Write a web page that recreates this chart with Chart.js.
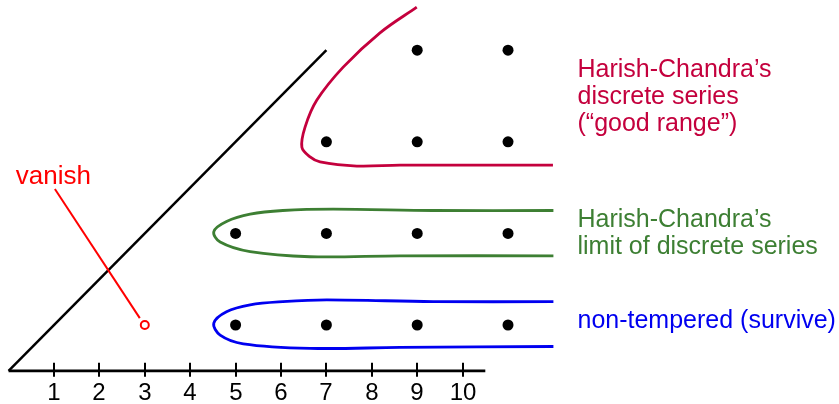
<!DOCTYPE html>
<html>
<head>
<meta charset="utf-8">
<script src="https://cdn.jsdelivr.net/npm/chart.js@4/dist/chart.umd.min.js"></script>
<style>
  html, body { margin: 0; padding: 0; background: #fff; }
  #wrap { width: 839px; height: 404px; }
</style>
</head>
<body>
<div id="wrap"><canvas id="chart" width="839" height="404"></canvas></div>
<script>
// axis ticks
const tickValues = [1, 2, 3, 4, 5, 6, 7, 8, 9, 10];
const tickLabels = ['1', '2', '3', '4', '5', '6', '7', '8', '9', '10'];

// lattice points (x > y, both odd)
const dotX = [5, 7, 9, 11, 5, 7, 9, 11, 7, 9, 11, 9, 11];
const dotY = [1, 1, 1, 1, 3, 3, 3, 3, 5, 5, 5, 7, 7];

// vanishing point
const vanishX = [3];
const vanishY = [1];

// axis and diagonal
const axisX = [0, 10.5];
const axisY = [0, 0];
const diagX = [0, 7];
const diagY = [0, 7];

// enclosing curves
const discreteX = [8.99, 8.18, 7.37, 6.79, 6.53, 6.46, 6.64, 6.86, 7.67, 8.62, 11.99];
const discreteY = [7.94, 7.38, 6.63, 5.91, 5.32, 4.88, 4.67, 4.56, 4.47, 4.49, 4.49];
const limitX = [12.0, 9.35, 7.15, 6.04, 5.32, 4.80, 4.52, 4.66, 5.32, 6.64, 8.62, 12.0];
const limitY = [3.50, 3.50, 3.53, 3.50, 3.42, 3.26, 3.04, 2.81, 2.60, 2.49, 2.51, 2.51];
const nonTempX = [12.0, 9.35, 7.01, 6.04, 5.32, 4.80, 4.52, 4.66, 5.17, 6.64, 8.62, 12.0];
const nonTempY = [1.51, 1.51, 1.55, 1.51, 1.44, 1.29, 1.04, 0.78, 0.59, 0.49, 0.51, 0.53];

// pointer from "vanish"
const pointerX = [1.02, 2.89];
const pointerY = [3.97, 1.15];

// text labels
const discreteLabel = ['Harish-Chandra\u2019s', 'discrete series', '(\u201cgood range\u201d)'];
const limitLabel = ['Harish-Chandra\u2019s', 'limit of discrete series'];
const nonTempLabel = ['non-tempered (survive)'];
const vanishLabel = ['vanish'];

const RED = '#c4003d';
const GREEN = '#3d7f33';
const BLUE = '#0000f0';
const BRIGHT = '#ff0000';

function pts(xs, ys) {
  return xs.map((v, i) => ({ x: v, y: ys[i] }));
}

function lineSet(xs, ys, color, width, tension) {
  return {
    data: pts(xs, ys),
    showLine: true,
    borderColor: color,
    borderWidth: width,
    pointRadius: 0,
    tension: tension,
    fill: false
  };
}

// text groups anchored in data units
const labelGroups = [
  { lines: discreteLabel, x: 12.53, y: 6.415, color: RED, size: 25 },
  { lines: limitLabel, x: 12.53, y: 3.146, color: GREEN, size: 25 },
  { lines: nonTempLabel, x: 12.53, y: 0.93, color: BLUE, size: 25 },
  { lines: vanishLabel, x: 0.16, y: 4.08, color: BRIGHT, size: 26 }
];

const overlay = {
  id: 'overlay',
  afterDraw(chart) {
    const { ctx } = chart;
    const x = chart.scales.x;
    const y = chart.scales.y;
    ctx.save();
    // tick marks + numbers
    const y0 = y.getPixelForValue(0);
    ctx.strokeStyle = '#000';
    ctx.lineWidth = 2;
    ctx.fillStyle = '#000';
    ctx.font = '24px "Liberation Sans", Arial, sans-serif';
    ctx.textAlign = 'center';
    ctx.textBaseline = 'alphabetic';
    tickValues.forEach((v, i) => {
      const px = Math.round(x.getPixelForValue(v));
      ctx.beginPath();
      ctx.moveTo(px, y0 - 8);
      ctx.lineTo(px, y0 + 6);
      ctx.stroke();
      ctx.fillText(tickLabels[i], px, y0 + 29);
    });
    // annotations
    ctx.textAlign = 'left';
    labelGroups.forEach(g => {
      ctx.font = g.size + 'px "Liberation Sans", Arial, sans-serif';
      ctx.fillStyle = g.color;
      const px = x.getPixelForValue(g.x);
      const py = y.getPixelForValue(g.y);
      g.lines.forEach((t, i) => ctx.fillText(t, px, py + i * 27));
    });
    ctx.restore();
  }
};

new Chart(document.getElementById('chart'), {
  type: 'scatter',
  data: {
    datasets: [
      {
        data: pts(dotX, dotY),
        pointRadius: 5.5,
        pointBackgroundColor: '#000',
        pointBorderWidth: 0,
        showLine: false
      },
      {
        data: pts(vanishX, vanishY),
        pointRadius: 4,
        pointBackgroundColor: '#fff',
        pointBorderColor: BRIGHT,
        pointBorderWidth: 2,
        showLine: false
      },
      lineSet(pointerX, pointerY, BRIGHT, 2, 0),
      lineSet(discreteX, discreteY, RED, 2.8, 0.35),
      lineSet(limitX, limitY, GREEN, 2.8, 0.35),
      lineSet(nonTempX, nonTempY, BLUE, 2.8, 0.35),
      lineSet(diagX, diagY, '#000', 2.5, 0),
      lineSet(axisX, axisY, '#000', 2.8, 0)
    ]
  },
  options: {
    responsive: false,
    animation: false,
    layout: { padding: 0, autoPadding: false },
    plugins: { legend: { display: false }, tooltip: { enabled: false } },
    scales: {
      x: { type: 'linear', display: false, min: -0.189, max: 18.29 },
      y: { type: 'linear', display: false, min: -0.725, max: 8.096 }
    }
  },
  plugins: [overlay]
});
</script>
</body>
</html>
